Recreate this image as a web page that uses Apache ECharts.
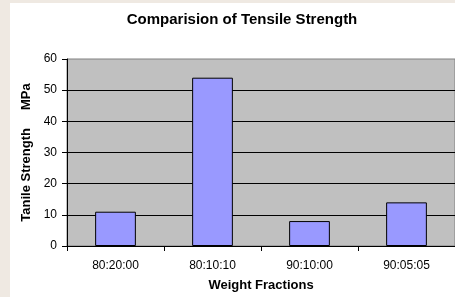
<!DOCTYPE html>
<html>
<head>
<meta charset="utf-8">
<script src="https://cdn.jsdelivr.net/npm/echarts@6/dist/echarts.min.js"></script>
<style>
html,body{margin:0;padding:0;background:#efe9e2;}
#c{width:455px;height:297px;}
</style>
</head>
<body>
<div id="c"></div>
<script>
const categories = ['80:20:00', '80:10:10', '90:10:00', '90:05:05'];
const tensileStrength = [11, 54, 8, 14];
const yTicks = [0, 10, 20, 30, 40, 50, 60];

const chart = echarts.init(document.getElementById('c'), null, {renderer: 'canvas'});
chart.setOption({
  animation: false,
  backgroundColor: 'transparent',
  graphic: [{
    type: 'rect', z: -10, silent: true,
    shape: {x: 10, y: 3, width: 460, height: 300},
    style: {fill: '#ffffff'}
  }],
  title: {
    text: 'Comparision of Tensile Strength',
    left: 237, top: 7, textAlign: 'center',
    textStyle: {fontFamily: 'Liberation Sans, Arial', fontSize: 15, fontWeight: 'bold', color: '#000'}
  },
  grid: {
    left: 67, top: 59, width: 392, height: 190,
    show: true, backgroundColor: '#c0c0c0', borderColor: '#808080', borderWidth: 1
  },
  xAxis: {
    type: 'category',
    data: categories,
    name: 'Weight Fractions',
    nameLocation: 'middle',
    nameGap: 33,
    nameTextStyle: {fontFamily: 'Liberation Sans, Arial', fontSize: 13, fontWeight: 'bold', color: '#000'},
    axisLine: {lineStyle: {color: '#000', width: 1}},
    axisTick: {show: true, length: 5, lineStyle: {color: '#000'}},
    axisLabel: {margin: 14, fontFamily: 'Liberation Sans, Arial', fontSize: 12, color: '#000'}
  },
  yAxis: {
    type: 'value',
    min: yTicks[0], max: yTicks[yTicks.length - 1], interval: 10,
    name: 'Tanile Strength     MPa',
    nameLocation: 'middle',
    nameGap: 31,
    nameTextStyle: {fontFamily: 'Liberation Sans, Arial', fontSize: 13, fontWeight: 'bold', color: '#000'},
    axisLine: {show: true, lineStyle: {color: '#000', width: 1}},
    axisTick: {show: true, length: 5, lineStyle: {color: '#000'}},
    axisLabel: {margin: 10, fontFamily: 'Liberation Sans, Arial', fontSize: 12, color: '#000'},
    splitLine: {show: true, showMaxLine: false, lineStyle: {color: '#000', width: 1}}
  },
  series: [{
    type: 'bar',
    data: tensileStrength,
    barWidth: '42%',
    itemStyle: {color: '#9999ff', borderColor: '#000', borderWidth: 1}
  }]
});
</script>
</body>
</html>
